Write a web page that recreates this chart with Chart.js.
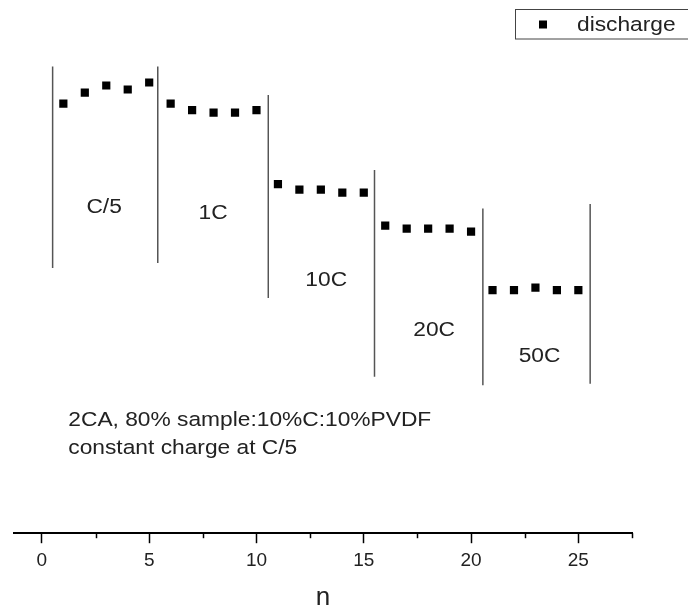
<!DOCTYPE html>
<html><head><meta charset="utf-8">
<script src="https://cdn.jsdelivr.net/npm/chart.js@4.4.1/dist/chart.umd.min.js"></script>
<style>html,body{margin:0;padding:0;background:#fff;}#wrap{width:688px;height:605px;}</style>
</head><body><div id="wrap"><canvas id="c" width="688" height="605"></canvas></div>
<script>
// ---- data ----
const cycles = [1,2,3,4,5,6,7,8,9,10,11,12,13,14,15,16,17,18,19,20,21,22,23,24,25];
const discharge = [85.9,88.1,89.5,88.7,90.1, 85.9,84.6,84.1,84.1,84.6, 69.8,68.7,68.7,68.1,68.1, 61.5,60.9,60.9,60.9,60.3, 48.6,48.6,49.1,48.6,48.6];
const seriesLabel = 'discharge';
const xTickValues = [0,2.5,5,7.5,10,12.5,15,17.5,20,22.5,25,27.5];
const boundaryX = [0.5,5.4,10.55,15.5,20.55,25.55];
const boundaryTop = [93.3,93.3,87.6,72.6,64.9,65.8];
const boundaryBottom = [53.0,54.0,47.0,31.3,29.6,29.9];
const rateLabels = ['C/5','1C','10C','20C','50C'];
const rateLabelX = [2.9,7.98,13.25,18.28,23.19];
const rateLabelY = [65.2,64.0,50.6,40.6,35.3];
const noteLines = ['2CA, 80% sample:10%C:10%PVDF','constant charge at C/5'];
const noteX = 1.23;
const noteY = [22.6,17.0];
const xTitle = 'n';

const FONT = '"Liberation Sans", Arial, sans-serif';
const STRETCH = 1.11;

const datasets = [{
  label: seriesLabel,
  data: cycles.map((c,i)=>({x:c,y:discharge[i]})),
  showLine:false,
  pointStyle:'rect',
  pointRadius:5.8,
  pointHoverRadius:5.8,
  pointBorderWidth:0,
  backgroundColor:'#000',
  borderColor:'#000'
}];
boundaryX.forEach((bx,i)=>{
  datasets.push({
    label:'boundary'+i,
    data:[{x:bx,y:boundaryTop[i]},{x:bx,y:boundaryBottom[i]}],
    showLine:true,
    pointRadius:0,
    borderColor:'#555',
    borderWidth:1.5,
    fill:false
  });
});

function stretchedText(ctx, text, x, y, align){
  ctx.save();
  const w = ctx.measureText(text).width*STRETCH;
  let left = x;
  if(align==='center') left = x - w/2;
  ctx.translate(left, y);
  ctx.scale(STRETCH,1);
  ctx.textAlign='left';
  ctx.fillText(text,0,0);
  ctx.restore();
}

const decor = {
  id:'decor',
  afterDatasetsDraw(chart){
    const ctx = chart.ctx, xs = chart.scales.x, ys = chart.scales.y;
    const bottom = chart.chartArea.bottom;
    // minor ticks
    ctx.save();
    ctx.strokeStyle='#000'; ctx.lineWidth=1.5;
    xTickValues.forEach(v=>{
      if(v%5!==0){
        const px = Math.round(xs.getPixelForValue(v))+0.5;
        ctx.beginPath(); ctx.moveTo(px,bottom); ctx.lineTo(px,bottom+5); ctx.stroke();
      }
    });
    ctx.restore();
    // rate labels and notes
    ctx.save();
    ctx.fillStyle='#222';
    ctx.font = '20.5px '+FONT;
    ctx.textBaseline='middle';
    rateLabels.forEach((t,i)=>{
      stretchedText(ctx,t,xs.getPixelForValue(rateLabelX[i]),ys.getPixelForValue(rateLabelY[i]),'center');
    });
    noteLines.forEach((t,i)=>{
      stretchedText(ctx,t,xs.getPixelForValue(noteX),ys.getPixelForValue(noteY[i]),'left');
    });
    ctx.restore();
    // legend
    ctx.save();
    ctx.strokeStyle='#444'; ctx.lineWidth=1;
    ctx.strokeRect(515.5,9.5,190,29.5);
    ctx.fillStyle='#000';
    ctx.fillRect(539,20.5,8,8);
    ctx.fillStyle='#222';
    ctx.font='20.5px '+FONT;
    ctx.textBaseline='middle';
    stretchedText(ctx,chart.data.datasets[0].label,577,25,'left');
    ctx.restore();
  }
};

new Chart(document.getElementById('c'),{
  type:'scatter',
  data:{datasets},
  options:{
    responsive:false,
    animation:false,
    devicePixelRatio:1,
    layout:{padding:{left:14,right:56,top:33,bottom:-2}},
    plugins:{legend:{display:false},tooltip:{enabled:false}},
    scales:{
      x:{
        type:'linear',
        min:-1.3,max:27.5,
        afterBuildTicks(scale){ scale.ticks = xTickValues.map(v=>({value:v})); },
        border:{display:true,color:'#000',width:2},
        grid:{display:true,drawOnChartArea:false,drawTicks:true,tickLength:10,tickWidth:1.5,
          tickColor:(c)=> (c.tick && c.tick.value%5===0) ? '#000' : 'rgba(0,0,0,0)'},
        ticks:{
          autoSkip:false,maxRotation:0,padding:6,color:'#222',
          font:{family:FONT,size:19},
          callback:(v)=> (v%5===0 ? String(v) : '')
        },
        title:{display:true,text:xTitle,color:'#222',font:{family:FONT,size:26,lineHeight:0.7},padding:{top:10.8,bottom:0}}
      },
      y:{display:false,min:0,max:100}
    }
  },
  plugins:[decor]
});
</script></body></html>
